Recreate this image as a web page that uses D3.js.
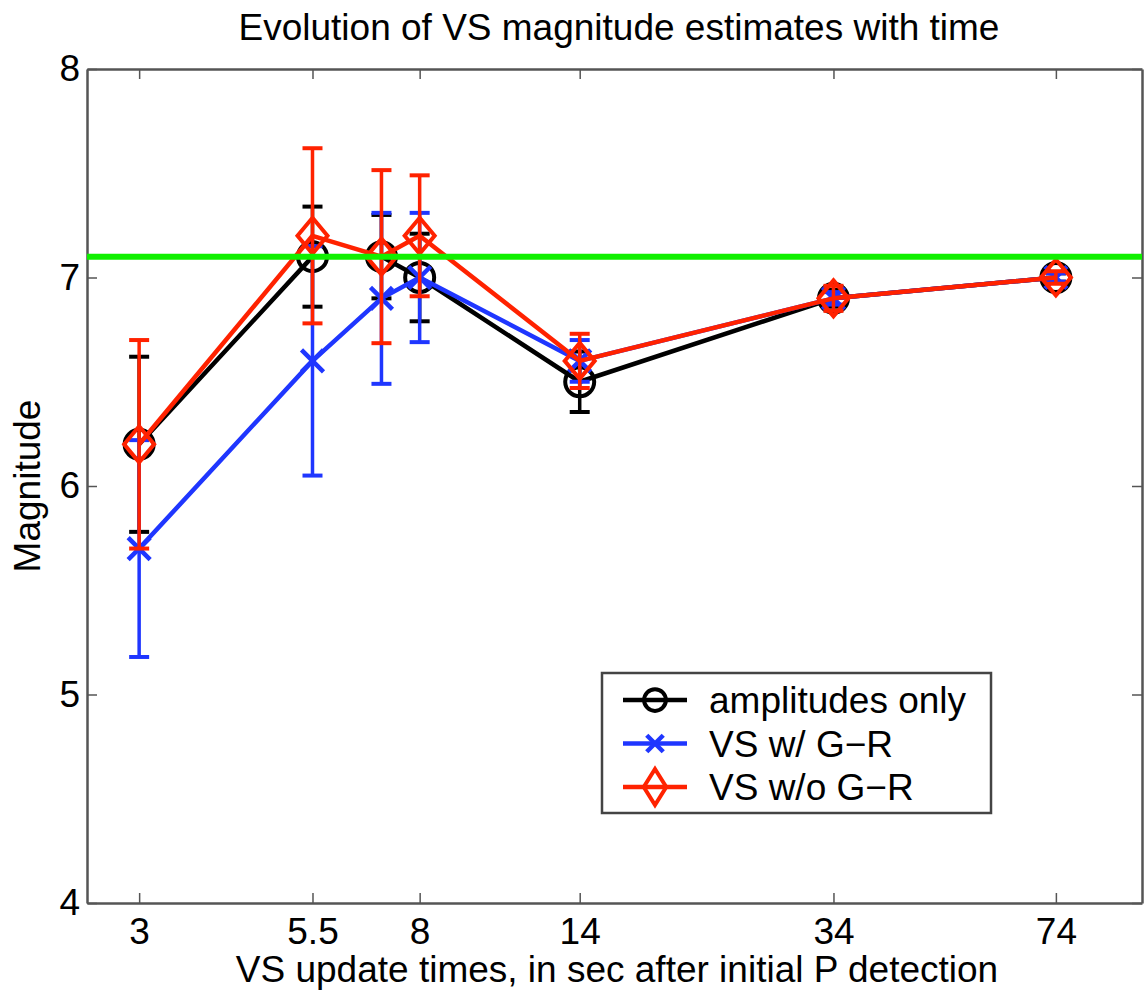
<!DOCTYPE html>
<html>
<head>
<meta charset="utf-8">
<script src="https://cdn.jsdelivr.net/npm/d3@7"></script>
<style>
  body { margin: 0; background: #fff; }
  text { font-family: "Liberation Sans", Arial, sans-serif; fill: #000; }
</style>
</head>
<body>
<script>
// update times (s after P detection) and the ticks shown on the axis
var times = [3, 5.5, 7, 8, 14, 34, 74];
var tickTimes = [3, 5.5, 8, 14, 34, 74];
var magTicks = [4, 5, 6, 7, 8];
var trueMag = 7.1;

// magnitude estimates and their error bar half-lengths
var ampOnly    = [6.2, 7.1, 7.1, 7.0, 6.5, 6.9, 7.0];
var ampOnlyErr = [0.42, 0.24, 0.2, 0.21, 0.145, 0.04, 0.02];
var vsGR       = [5.7, 6.6, 6.9, 7.0, 6.6, 6.9, 7.0];
var vsGRErr    = [0.52, 0.55, 0.41, 0.31, 0.1, 0.03, 0.02];
var vsNoGR     = [6.2, 7.2, 7.1, 7.2, 6.6, 6.9, 7.0];
var vsNoGRErr  = [0.5, 0.42, 0.415, 0.29, 0.13, 0.06, 0.03];

var seriesNames = ["amplitudes only", "VS w/ G\u2212R", "VS w/o G\u2212R"];

var totalWidth = 1145, totalHeight = 994;
var margin = {top: 69, left: 87, bottom: 91, right: 3};
var width = totalWidth - margin.left - margin.right;
var height = totalHeight - margin.top - margin.bottom;

var svg = d3.select("body").append("svg")
    .attr("width", totalWidth)
    .attr("height", totalHeight);

var g = svg.append("g")
    .attr("transform", "translate(" + margin.left + "," + margin.top + ")");

var xScale = d3.scaleLog().domain([2.5, 100]).range([0, width]);
var yScale = d3.scaleLinear().domain([4, 8]).range([height, 0]);

var series = [
  {name: seriesNames[0], vals: ampOnly, errs: ampOnlyErr, color: "#000000", marker: "circle"},
  {name: seriesNames[1], vals: vsGR, errs: vsGRErr, color: "#1f36ff", marker: "x"},
  {name: seriesNames[2], vals: vsNoGR, errs: vsNoGRErr, color: "#ff2200", marker: "diamond"}
];

// axes, matlab style box with inward ticks
var frameColor = "#555";
var fontSize = "37px";
function styleAxis(sel) {
  sel.select(".domain").attr("stroke", frameColor).attr("stroke-width", 2.5);
  sel.selectAll(".tick line").attr("stroke", frameColor).attr("stroke-width", 1.5);
  sel.selectAll(".tick text").style("font-size", fontSize).attr("fill", "#000");
}

var xAxis = d3.axisBottom(xScale).tickValues(tickTimes).tickFormat(d3.format("")).tickSizeInner(-10).tickSizeOuter(0).tickPadding(15);
g.append("g").attr("transform", "translate(0," + height + ")").call(xAxis).call(styleAxis);

var xTop = d3.axisTop(xScale).tickValues(tickTimes).tickFormat("").tickSizeInner(-10).tickSizeOuter(0);
g.append("g").call(xTop).call(styleAxis);

var yAxis = d3.axisLeft(yScale).tickValues(magTicks).tickFormat(d3.format("d")).tickSizeInner(-10).tickSizeOuter(0).tickPadding(7);
g.append("g").call(yAxis).call(styleAxis);

var yRight = d3.axisRight(yScale).tickValues(magTicks).tickFormat("").tickSizeInner(-10).tickSizeOuter(0);
g.append("g").attr("transform", "translate(" + width + ",0)").call(yRight).call(styleAxis);

g.selectAll(".tick text").attr("font-family", "Liberation Sans");

// markers
function drawMarker(sel, type, color, sx, sy) {
  if (type === "circle") {
    sel.append("circle").attr("r", 14.5 * sx).attr("fill", "none")
      .attr("stroke", color).attr("stroke-width", 4);
  } else if (type === "x") {
    var s = 11 * sx;
    sel.append("path").attr("d", "M" + (-s) + "," + (-s) + "L" + s + "," + s + "M" + (-s) + "," + s + "L" + s + "," + (-s))
      .attr("stroke", color).attr("stroke-width", 4.5).attr("fill", "none");
  } else {
    var w = 15 * sx, h = 18 * sy;
    sel.append("path").attr("d", "M0," + (-h) + "L" + w + ",0L0," + h + "L" + (-w) + ",0Z")
      .attr("fill", "none").attr("stroke", color).attr("stroke-width", 4);
  }
}

var line = d3.line()
  .x(function(d) { return xScale(d.t); })
  .y(function(d) { return yScale(d.v); });

series.forEach(function(s) {
  var pts = times.map(function(t, i) { return {t: t, v: s.vals[i], e: s.errs[i]}; });
  var sg = g.append("g");

  var bars = sg.selectAll(".err").data(pts).enter().append("g").attr("class", "err");
  bars.append("line")
    .attr("x1", function(d) { return xScale(d.t); })
    .attr("x2", function(d) { return xScale(d.t); })
    .attr("y1", function(d) { return yScale(d.v - d.e); })
    .attr("y2", function(d) { return yScale(d.v + d.e); })
    .attr("stroke", s.color).attr("stroke-width", 3.5);
  [-1, 1].forEach(function(sign) {
    bars.append("line")
      .attr("x1", function(d) { return xScale(d.t) - 10; })
      .attr("x2", function(d) { return xScale(d.t) + 10; })
      .attr("y1", function(d) { return yScale(d.v + sign * d.e); })
      .attr("y2", function(d) { return yScale(d.v + sign * d.e); })
      .attr("stroke", s.color).attr("stroke-width", 4);
  });

  sg.append("path").datum(pts).attr("d", line)
    .attr("fill", "none").attr("stroke", s.color).attr("stroke-width", 4.5)
    .attr("stroke-linejoin", "round");

  sg.selectAll(".mk").data(pts).enter().append("g").attr("class", "mk")
    .attr("transform", function(d) { return "translate(" + xScale(d.t) + "," + yScale(d.v) + ")"; })
    .each(function() { drawMarker(d3.select(this), s.marker, s.color, 1, 1); });
});

// reference magnitude
g.append("line")
  .attr("x1", 0).attr("x2", width)
  .attr("y1", yScale(trueMag)).attr("y2", yScale(trueMag))
  .attr("stroke", "#10f000").attr("stroke-width", 6);

// legend
var legend = g.append("g").attr("transform", "translate(" + (602 - margin.left) + "," + (673 - margin.top) + ")");
legend.append("rect").attr("width", 389).attr("height", 140)
  .attr("fill", "#fff").attr("stroke", "#444").attr("stroke-width", 2.5);
series.forEach(function(s, i) {
  var row = legend.append("g").attr("transform", "translate(0," + (27 + i * 43.5) + ")");
  row.append("line").attr("x1", 21).attr("x2", 85).attr("y1", 0).attr("y2", 0)
    .attr("stroke", s.color).attr("stroke-width", 4.5);
  var m = row.append("g").attr("transform", "translate(53,0)");
  drawMarker(m, s.marker, s.color, 0.75, 1);
  row.append("text").attr("x", 107).attr("y", 13).style("font-size", fontSize).text(s.name);
});

// titles
svg.append("text")
  .attr("x", 619).attr("y", 40)
  .style("text-anchor", "middle").style("font-size", fontSize)
  .text("Evolution of VS magnitude estimates with time");

svg.append("text")
  .attr("x", 617).attr("y", 982)
  .style("text-anchor", "middle").style("font-size", fontSize)
  .text("VS update times, in sec after initial P detection");

svg.append("text")
  .attr("transform", "rotate(-90)")
  .attr("x", -486).attr("y", 40)
  .style("text-anchor", "middle").style("font-size", fontSize)
  .text("Magnitude");
</script>
</body>
</html>
